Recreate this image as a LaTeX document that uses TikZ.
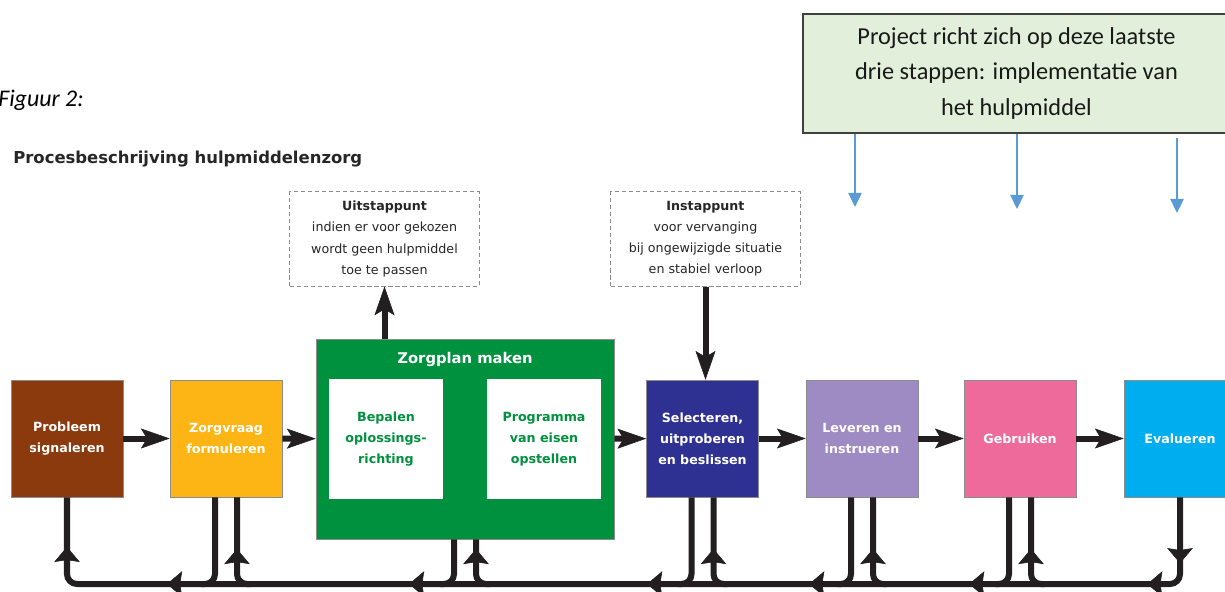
\documentclass[tikz,border=0pt]{standalone}
\usepackage{fontspec}
\setmainfont{Carlito}
\newfontfamily\boxfont{DejaVu Sans}
\usetikzlibrary{arrows.meta,calc,decorations.markings}

\definecolor{cbrown}{RGB}{139,58,14}
\definecolor{cyellow}{RGB}{253,181,21}
\definecolor{cgreen}{RGB}{0,145,63}
\definecolor{cblue}{RGB}{46,49,146}
\definecolor{clilac}{RGB}{158,139,195}
\definecolor{cpink}{RGB}{238,106,154}
\definecolor{ccyan}{RGB}{0,174,239}
\definecolor{cproj}{RGB}{226,239,218}
\definecolor{cpointer}{RGB}{91,155,213}
\definecolor{cline}{RGB}{35,31,32}

\begin{document}
\begin{tikzpicture}[
	x=0.025cm, y=-0.025cm,
	stepbox/.style={draw=black!45, line width=0.4pt, minimum width=2.8cm, minimum height=2.925cm, inner sep=1pt, align=center, text=white, font=\boxfont\bfseries\fontsize{9}{15}\selectfont},
	subbox/.style={fill=white, minimum width=2.85cm, minimum height=3cm, inner sep=1pt, align=center, text=cgreen, font=\boxfont\bfseries\fontsize{9}{15}\selectfont},
	notebox/.style={draw=black!45, densely dashed, line width=0.7pt, minimum width=4.725cm, minimum height=2.35cm, inner sep=1pt, align=center, text=black!85, font=\boxfont\fontsize{9}{15}\selectfont},
	projbox/.style={draw=black!75, fill=cproj, line width=1.2pt, minimum width=10.675cm, minimum height=2.975cm, align=center, text=black!90, font=\fontsize{17.3}{25}\selectfont},
	midtip/.tip={Stealth[length=0.38cm, width=0.64cm, inset=0.05cm, line width=0.4pt]},
	bigtip/.tip={Stealth[length=0.72cm, width=0.5cm, inset=0.15cm, line width=0.4pt]},
	flow/.style={draw=cline, line width=0.15cm, rounded corners=0.25cm},
	stepline/.style={draw=cline, line width=0.15cm, -{bigtip}},
	pointer/.style={draw=cpointer, line width=0.04cm, -{Triangle[length=0.35cm, width=0.33cm]}}
	]
	
	\useasboundingbox (0,0) rectangle (1225,592);
	
	%-----------------------
	% Customizable heights
	%-----------------------
	\def\hstep{438.5}  % main row of steps
	\def\hnote{239}    % entry/exit notes
	\def\ybus{584}     % feedback line
	
	%-----------------------
	% Captions
	%-----------------------
	\node[anchor=base west, inner sep=0pt, font=\itshape\fontsize{17}{20}\selectfont] (fig) at (-2,106) {Figuur 2:};
	\node[anchor=base west, inner sep=0pt, font=\boxfont\bfseries\fontsize{11.7}{14}\selectfont, text=black!85] (title) at (13,163) {Procesbeschrijving hulpmiddelenzorg};
	
	%-----------------------
	% Main row: steps
	%-----------------------
	\node[stepbox, fill=cbrown] (prob) at (67,\hstep) {Probleem\\signaleren};
	\node[stepbox, fill=cyellow] (zv) at (226,\hstep) {Zorgvraag\\formuleren};
	
	\node[draw=black!45, fill=cgreen, minimum width=7.45cm, minimum height=5cm] (plan) at (465,439) {};
	\node[text=white, font=\boxfont\bfseries\fontsize{10.5}{12}\selectfont] (plantitle) at (465,359) {Zorgplan maken};
	\node[subbox] (bepalen) at (386,439) {Bepalen\\oplossings-\\richting};
	\node[subbox] (pve) at (544,439) {Programma\\van eisen\\opstellen};
	
	\node[stepbox, fill=cblue] (sel) at (702.5,\hstep) {Selecteren,\\uitproberen\\en beslissen};
	\node[stepbox, fill=clilac] (lev) at (862,\hstep) {Leveren en\\instrueren};
	\node[stepbox, fill=cpink] (geb) at (1020,\hstep) {Gebruiken};
	\node[stepbox, fill=ccyan] (eva) at (1180,\hstep) {Evalueren};
	
	%-----------------------
	% Notes: exit and entry
	%-----------------------
	\node[notebox] (uit) at (384.5,\hnote) {\textbf{Uitstappunt}\\indien er voor gekozen\\wordt geen hulpmiddel\\toe te passen};
	\node[notebox] (in) at (705.5,\hnote) {\textbf{Instappunt}\\voor vervanging\\bij ongewijzigde situatie\\en stabiel verloop};
	
	%-----------------------
	% Project note (top right)
	%-----------------------
	\node[projbox] (proj) at (1016.5,73.5) {Project richt zich op deze laatste\\drie stappen: implementatie van\\het hulpmiddel};
	\coordinate (p1) at (855,207);
	\coordinate (p2) at (1017,209);
	\coordinate (p3) at (1177,213);
	
	\coordinate (bus) at (0,\ybus);
	
	%-----------------------
	% Connections
	%-----------------------
	% steps left to right
	\draw[stepline] (prob) -- (zv);
	\draw[stepline] (zv) -- (plan);
	\draw[stepline] (plan) -- (sel);
	\draw[stepline] (sel) -- (lev);
	\draw[stepline] (lev) -- (geb);
	\draw[stepline] (geb) -- (eva);
	
	% exit and entry
	\draw[stepline] (uit.south |- plan.north) -- (uit.south);
	\draw[stepline] (in.south) -- (in.south |- sel.north);
	
	% feedback line, from Evalueren back to Probleem signaleren
	\draw[flow, postaction={decorate}, decoration={markings,
		mark=at position 1.65cm with {\arrow{midtip}},
		mark=at position 2.88cm with {\arrow{midtip}},
		mark=at position 7.33cm with {\arrow{midtip}},
		mark=at position 11.33cm with {\arrow{midtip}},
		mark=at position 15.38cm with {\arrow{midtip}},
		mark=at position 21.33cm with {\arrow{midtip}},
		mark=at position 27.38cm with {\arrow{midtip}},
		mark=at position 30.7cm with {\arrow{midtip}}}]
		(eva.south) |- (prob.south |- bus) -- (prob.south);
	
	% steps down into the feedback line
	\foreach \s in {zv, plan, sel, lev, geb}
		\draw[flow] ($(\s.south)+(-11,0)$) |- ($(\s.south |- bus)+(-25,0)$);
	
	% feedback line up into the steps
	\foreach \s in {zv, plan, sel, lev, geb}
		\draw[flow, postaction={decorate}, decoration={markings, mark=at position 1.12cm with {\arrow{midtip}}}]
			($(\s.south |- bus)+(25,0)$) -| ($(\s.south)+(11,0)$);
	
	% project note to the last three steps
	\draw[pointer] (proj.south -| p1) -- (p1);
	\draw[pointer] (proj.south -| p2) -- (p2);
	\draw[pointer] ($(proj.south -| p3)+(0,4)$) -- (p3);
	
\end{tikzpicture}
\end{document}
